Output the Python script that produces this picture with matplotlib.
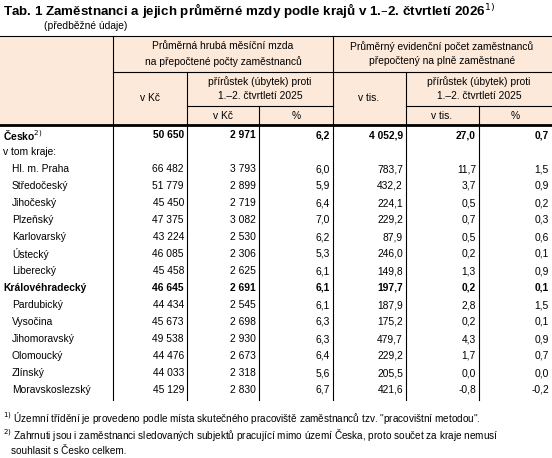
import matplotlib
matplotlib.use("Agg")
import matplotlib.pyplot as plt
plt.rcParams['font.family'] = ['Liberation Sans', 'DejaVu Sans']

regions = ["Hl. m. Praha","Středočeský","Jihočeský","Plzeňský","Karlovarský","Ústecký","Liberecký",
           "Královéhradecký","Pardubický","Vysočina","Jihomoravský","Olomoucký","Zlínský","Moravskoslezský"]
mzda = ["66 482","51 779","45 450","47 375","43 224","46 085","45 458","46 645","44 434","45 673","49 538","44 476","44 033","45 129"]
mzda_kc = ["3 793","2 899","2 719","3 082","2 530","2 306","2 625","2 691","2 545","2 698","2 930","2 673","2 318","2 830"]
mzda_pct = ["6,0","5,9","6,4","7,0","6,2","5,3","6,1","6,1","6,1","6,3","6,3","6,4","5,6","6,7"]
pocet = ["783,7","432,2","224,1","229,2","87,9","246,0","149,8","197,7","187,9","175,2","479,7","229,2","205,5","421,6"]
pocet_d = ["11,7","3,7","0,5","0,7","0,5","0,2","1,3","0,2","2,8","0,2","4,3","1,7","0,0","-0,8"]
pocet_pct = ["1,5","0,9","0,2","0,3","0,6","0,1","0,9","0,1","1,5","0,1","0,9","0,7","0,0","-0,2"]
cesko = ["50 650","2 971","6,2","4 052,9","27,0","0,7"]

fig = plt.figure(figsize=(5.52,4.58), dpi=100)
ax = fig.add_axes([0,0,1,1]); ax.set_xlim(0,552); ax.set_ylim(458,0); ax.axis('off')
fs = 7.4
xs = [0,113,187,259,333,406,479,552]
fill = '#FDE9D9'
ax.add_patch(plt.Rectangle((0,36),552,89,color=fill,lw=0))
ax.text(3,11,"Tab. 1 Zaměstnanci a jejich průměrné mzdy podle krajů v 1.–2. čtvrtletí 2026$^{1)}$",fontsize=9.6,weight='bold',va='center')
ax.text(44,26,"(předběžné údaje)",fontsize=fs,va='center')
k = dict(color='black', lw=0.8)
ax.plot([0,552],[36,36],**k)
ax.plot([113,552],[72,72],**k)
ax.plot([187,333],[106,106],**k); ax.plot([406,552],[106,106],**k)
ax.plot([0,552],[125,125],color='black',lw=2)
ax.plot([113,113],[36,400],**k); ax.plot([333,333],[36,400],**k)
ax.plot([187,187],[72,400],**k); ax.plot([406,406],[72,400],**k)
ax.plot([259,259],[106,400],**k); ax.plot([479,479],[106,400],**k)
c = dict(fontsize=fs, ha='center', va='center')
ax.text(223,54,"Průměrná hrubá měsíční mzda\nna přepočtené počty zaměstnanců",linespacing=1.5,**c)
ax.text(442,54,"Průměrný evidenční počet zaměstnanců\npřepočtený na plně zaměstnané",linespacing=1.5,**c)
ax.text(150,98,"v Kč",**c); ax.text(369,98,"v tis.",**c)
ax.text(260,89,"přírůstek (úbytek) proti\n1.–2. čtvrtletí 2025",linespacing=1.5,**c)
ax.text(479,89,"přírůstek (úbytek) proti\n1.–2. čtvrtletí 2025",linespacing=1.5,**c)
ax.text(223,116,"v Kč",**c); ax.text(296,116,"%",**c)
ax.text(442,116,"v tis.",**c); ax.text(515,116,"%",**c)

def row(y, name, vals, bold=False, indent=0):
    w = 'bold' if bold else 'normal'
    ax.text(3+indent, y, name, fontsize=fs, va='center', weight=w)
    for i, v in enumerate(vals):
        ax.text(xs[i+2]-3, y, v, fontsize=fs, va='center', ha='right', weight=w)

row(135, "Česko$^{2)}$", cesko, bold=True)
ax.text(3,152,"v tom kraje:",fontsize=fs,va='center')
for i, r in enumerate(regions):
    row(169+17*i, r, [mzda[i],mzda_kc[i],mzda_pct[i],pocet[i],pocet_d[i],pocet_pct[i]],
        bold=(r=="Královéhradecký"), indent=0 if r=="Královéhradecký" else 9)
ax.text(3,418,"$^{1)}$ Územní třídění je provedeno podle místa skutečného pracoviště zaměstnanců tzv. \"pracovištní metodou\".",fontsize=fs-0.2,va='center')
ax.text(3,435,"$^{2)}$ Zahrnuti jsou i zaměstnanci sledovaných subjektů pracující mimo území Česka, proto součet za kraje nemusí",fontsize=fs-0.2,va='center')
ax.text(11,451,"souhlasit s Česko celkem.",fontsize=fs-0.2,va='center')
fig.savefig("out.png", dpi=100)
